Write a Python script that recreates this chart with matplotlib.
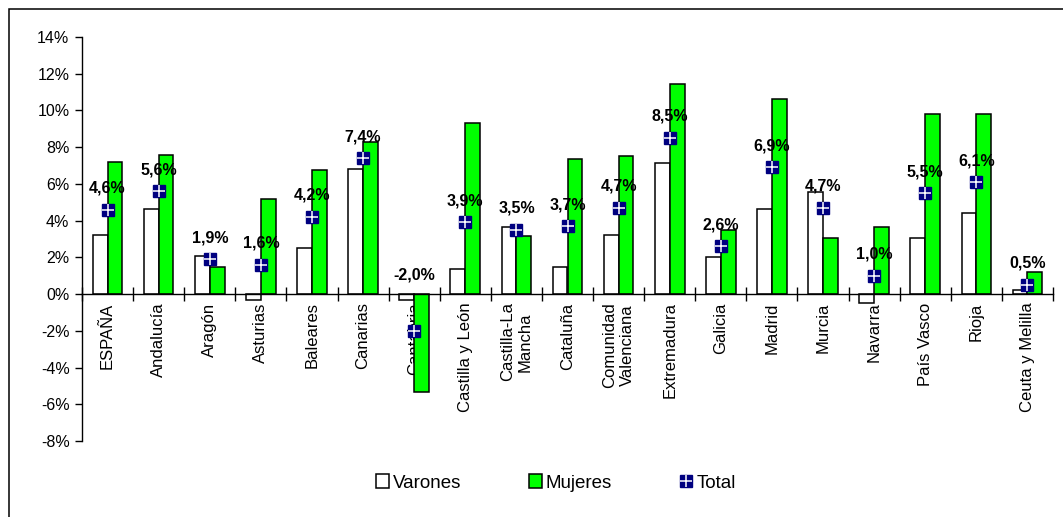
import matplotlib.pyplot as plt
import matplotlib.patches as mpatches
from matplotlib.lines import Line2D
from matplotlib.ticker import FuncFormatter, FixedLocator
import numpy as np

plt.rcParams['font.family'] = ['Liberation Sans', 'DejaVu Sans']

regions = ['ESPAÑA', 'Andalucía', 'Aragón', 'Asturias', 'Baleares', 'Canarias',
           'Cantabria', 'Castilla y León', 'Castilla-La\nMancha', 'Cataluña',
           'Comunidad\nValenciana', 'Extremadura', 'Galicia', 'Madrid', 'Murcia',
           'Navarra', 'País Vasco', 'Rioja', 'Ceuta y Melilla']
varones = [3.2, 4.65, 2.1, -0.3, 2.5, 6.8, -0.3, 1.35, 3.65, 1.45,
           3.2, 7.15, 2.0, 4.65, 5.55, -0.5, 3.05, 4.4, 0.2]
mujeres = [7.2, 7.55, 1.45, 5.2, 6.75, 8.3, -5.35, 9.3, 3.15, 7.35,
           7.5, 11.45, 3.5, 10.65, 3.05, 3.65, 9.8, 9.8, 1.2]
total = [4.6, 5.6, 1.9, 1.6, 4.2, 7.4, -2.0, 3.9, 3.5, 3.7,
         4.7, 8.5, 2.6, 6.9, 4.7, 1.0, 5.5, 6.1, 0.5]

fig = plt.figure(figsize=(10.63, 5.17), dpi=100)
ax = fig.add_axes([82 / 1063, 1 - 441 / 517, (1053 - 82) / 1063, (441 - 37) / 517])

x = np.arange(len(regions))
w = 0.29
ax.bar(x - w / 2, varones, w, color='white', edgecolor='black', linewidth=1.1, zorder=2)
ax.bar(x + w / 2, mujeres, w, color='#00ff00', edgecolor='black', linewidth=1.1, zorder=2)
ax.plot(x, total, 's', color='#000080', markersize=8.6, mec='#000080', ls='none', zorder=4)
ax.plot(x, total, '+', color='white', markersize=8.6, mew=1.1, ls='none', zorder=5)

for xi, t in zip(x, total):
    ax.annotate(f"{t:.1f}%".replace('.', ','), (xi, max(t, 0)),
                xytext=(0, 15.5 if t >= 0 else 14), textcoords='offset points',
                ha='center', va='center', fontsize=11.5, fontweight='bold', zorder=6)

ax.set_xlim(-0.5, len(regions) - 0.5)
ax.set_ylim(-8, 14)
ax.set_yticks(range(-8, 15, 2))
ax.yaxis.set_major_formatter(FuncFormatter(lambda v, p: f"{int(v)}%"))
ax.set_xticks(x)
ax.set_xticklabels(regions, linespacing=1.45)
ax.xaxis.set_minor_locator(FixedLocator(np.arange(-0.5, len(regions), 1.0)))
ax.tick_params(axis='x', which='major', length=0, pad=6, labelrotation=90, labelsize=12)
ax.tick_params(axis='x', which='minor', length=10, direction='inout', width=1)
ax.tick_params(axis='y', length=5, width=1, labelsize=11.5, pad=4)

for s in ['top', 'right']:
    ax.spines[s].set_visible(False)
ax.spines['bottom'].set_position(('data', 0))
ax.spines['left'].set_linewidth(1)
ax.spines['bottom'].set_linewidth(1)

h_var = mpatches.Patch(facecolor='white', edgecolor='black', linewidth=1.1)
h_muj = mpatches.Patch(facecolor='#00ff00', edgecolor='black', linewidth=1.1)
h_tot = (Line2D([], [], marker='s', color='#000080', markersize=8.6, ls='none'),
         Line2D([], [], marker='+', color='white', markersize=8.6, mew=1.1, ls='none'))
fig.legend([h_var, h_muj, h_tot], ['Varones', 'Mujeres', 'Total'], ncol=3,
           loc='center', bbox_to_anchor=(556 / 1063, 1 - 483 / 517), frameon=False,
           fontsize=13.5, handlelength=0.7, handleheight=0.7, handletextpad=0.2,
           columnspacing=3.6)

top = 1 - 9 / 517
fig.patches.append(mpatches.Rectangle((8.5 / 1063, -0.2), 1.2, top + 0.2,
                                      transform=fig.transFigure, fill=False,
                                      edgecolor='black', linewidth=1.1))

fig.savefig('out.png', dpi=100)
